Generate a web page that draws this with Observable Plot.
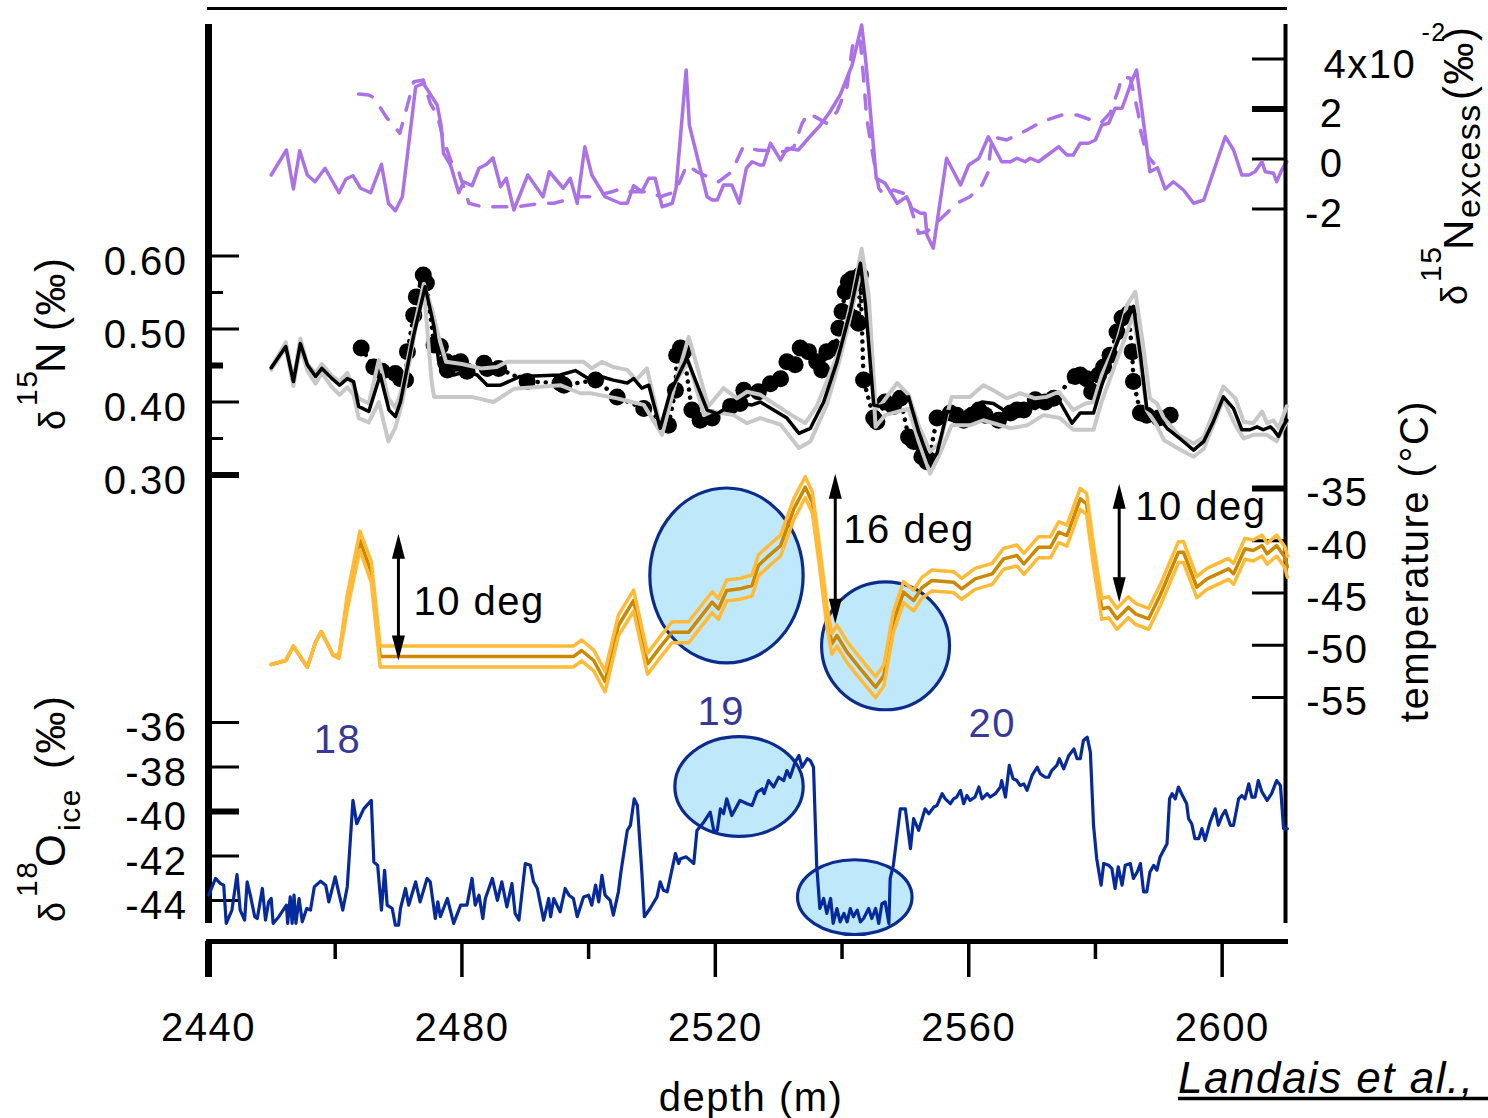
<!DOCTYPE html>
<html>
<head>
<meta charset="utf-8">
<script src="https://cdn.jsdelivr.net/npm/d3@7"></script>
<script src="https://cdn.jsdelivr.net/npm/@observablehq/plot@0.6"></script>
<style>
html,body{margin:0;padding:0;background:#fff;}
#chart{position:relative;width:1488px;height:1118px;overflow:hidden;background:#fff;}
#chart > svg{position:absolute;left:0;top:0;}
#chart text{font-family:"Liberation Sans",Arial,Helvetica,sans-serif;letter-spacing:1.5px;}
</style>
</head>
<body>
<div id="chart"></div>
<script>
// ---------------- DATA ----------------
// x axis ticks (depth, m)
const depthMajor = [2440, 2480, 2520, 2560, 2600];
const depthMinor = [2460, 2500, 2540, 2580];
// tick values
const excessTicks = [4, 2, 0, -2];
const d15NTicks = [0.30, 0.40, 0.50, 0.60];
const d15NMinor = [0.35, 0.45, 0.55];
const tempTicks = [-35, -40, -45, -50, -55];
const d18OTicks = [-36, -38, -40, -42, -44];

// δ15N excess (x10^-2 ‰), solid series [depth, value]
const excessSolid = [[2449.9,-0.64],[2452.3,0.36],[2453.4,-1.20],[2454.4,0.33],[2455.6,-0.64],[2456.8,-0.91],[2458.4,-0.37],[2460.6,-1.35],[2461.7,-0.80],[2462.8,-0.67],[2464.0,-1.17],[2465.6,-1.35],[2467.3,-0.21],[2468.4,-1.77],[2469.5,-2.07],[2470.6,-1.51],[2472.7,2.89],[2473.9,3.03],[2476.1,2.16],[2476.7,1.36],[2477.1,0.23],[2478.2,-0.24],[2479.5,-1.35],[2480.3,-0.91],[2481.6,-1.07],[2482.7,-0.37],[2483.9,-0.21],[2484.9,0.05],[2486.1,-1.11],[2487.0,-0.77],[2488.2,-2.04],[2490.4,-0.64],[2492.8,-1.51],[2493.8,-0.51],[2496.0,-1.17],[2497.1,-0.77],[2498.2,-1.77],[2499.4,0.49],[2500.5,-0.64],[2502.6,-1.51],[2505.0,-1.77],[2506.1,-1.77],[2507.1,-1.07],[2508.4,-1.31],[2509.5,-0.77],[2510.5,-0.77],[2511.6,-1.91],[2513.2,-1.77],[2513.8,-1.17],[2515.4,3.56],[2515.9,1.36],[2518.7,-1.51],[2519.5,-1.64],[2520.3,-1.64],[2521.3,-1.04],[2522.6,-1.04],[2523.8,-1.77],[2524.9,-0.37],[2525.8,-0.11],[2527.0,-0.24],[2527.6,-0.24],[2528.7,0.63],[2530.3,-0.04],[2531.3,0.43],[2533.1,0.36],[2534.7,0.83],[2536.6,1.36],[2538.1,1.89],[2539.7,2.56],[2541.6,3.76],[2543.1,5.36],[2543.7,4.03],[2544.2,2.69],[2545.4,-0.77],[2546.8,-0.97],[2548.7,-1.77],[2550.2,-1.51],[2551.0,-1.97],[2552.4,-2.17],[2553.1,-2.17],[2553.4,-3.04],[2554.4,-3.57],[2556.5,0.03],[2558.7,-1.04],[2560.0,-0.24],[2561.6,0.03],[2563.1,0.89],[2565.2,-0.11],[2566.6,-0.11],[2567.6,0.03],[2568.9,-0.11],[2569.7,0.03],[2571.0,-0.11],[2574.2,0.49],[2575.5,0.16],[2576.5,0.16],[2577.6,0.63],[2578.9,0.63],[2580.0,0.76],[2581.0,1.36],[2582.1,1.43],[2583.1,2.03],[2584.2,2.03],[2585.8,3.16],[2586.5,3.56],[2587.3,2.03],[2588.6,-0.51],[2589.8,-0.35],[2591.0,-1.20],[2592.3,-0.91],[2593.9,-1.24],[2595.5,-1.77],[2597.1,-1.64],[2600.5,0.89],[2601.8,0.36],[2603.1,-0.64],[2604.2,-0.64],[2605.2,-0.51],[2606.3,-0.11],[2606.8,-0.51],[2608.1,-0.57],[2608.6,-0.91],[2609.4,-0.44],[2610.2,-0.11]];

// δ15N excess, dashed series
const excessDashed = [[2463.7,2.60],[2465.3,2.56],[2466.1,2.45],[2468.2,1.63],[2470.2,1.03],[2472.4,3.09],[2473.9,3.16],[2475.0,2.23],[2476.1,1.76],[2477.1,0.76],[2478.5,-0.24],[2479.5,-0.51],[2481.1,-1.77],[2483.2,-1.91],[2486.6,-1.91],[2488.7,-1.91],[2492.7,-1.77],[2494.5,-1.77],[2498.4,-1.51],[2500.5,-1.51],[2503.7,-1.31],[2505.0,-1.20],[2506.1,-1.31],[2509.5,-1.31],[2511.3,-1.51],[2513.7,-1.31],[2515.5,-0.24],[2517.1,-0.51],[2520.5,-0.91],[2522.6,-0.51],[2524.4,0.49],[2526.6,0.36],[2531.0,0.29],[2532.4,0.49],[2533.7,1.43],[2534.7,1.83],[2537.6,1.43],[2539.2,1.89],[2540.8,2.89],[2541.6,4.43],[2542.1,4.89],[2542.9,4.69],[2543.4,3.23],[2543.9,1.63],[2544.5,0.69],[2545.8,-1.17],[2546.8,-1.51],[2548.1,-1.24],[2550.5,-1.44],[2550.8,-1.91],[2552.1,-2.97],[2553.4,-2.91],[2556.5,-2.17],[2558.1,-1.77],[2560.2,-1.51],[2562.1,-1.04],[2563.1,-0.51],[2563.3,0.09],[2563.7,0.89],[2566.0,0.76],[2569.2,1.16],[2571.5,1.49],[2574.7,1.76],[2577.1,1.76],[2580.8,1.43],[2582.3,1.83],[2583.6,2.76],[2584.2,3.29],[2585.5,3.23],[2586.0,2.69],[2586.8,1.76],[2587.1,1.16],[2588.1,0.16],[2589.2,-0.17]];

// δ15N (‰) model, black line
const d15NModel = [[2449.9,0.447],[2452.2,0.476],[2453.4,0.428],[2454.5,0.480],[2455.6,0.451],[2456.9,0.435],[2457.9,0.446],[2459.5,0.432],[2460.7,0.423],[2461.9,0.432],[2462.9,0.428],[2463.7,0.394],[2465.3,0.387],[2467.1,0.437],[2468.5,0.389],[2469.5,0.380],[2470.3,0.400],[2472.4,0.492],[2474.2,0.558],[2475.6,0.503],[2476.4,0.451],[2477.1,0.439],[2478.7,0.437],[2480.8,0.442],[2482.4,0.437],[2484.0,0.423],[2486.1,0.423],[2489.2,0.435],[2495.5,0.437],[2497.9,0.443],[2500.0,0.432],[2501.9,0.435],[2503.9,0.430],[2506.1,0.426],[2507.1,0.432],[2508.4,0.419],[2509.5,0.423],[2511.3,0.364],[2512.9,0.414],[2515.5,0.460],[2518.7,0.389],[2520.3,0.384],[2522.1,0.394],[2523.9,0.398],[2525.8,0.396],[2527.1,0.400],[2529.2,0.389],[2531.3,0.378],[2533.2,0.357],[2535.0,0.364],[2537.1,0.400],[2539.2,0.455],[2541.3,0.524],[2542.9,0.590],[2543.7,0.533],[2545.0,0.396],[2546.0,0.394],[2548.1,0.400],[2550.5,0.407],[2552.1,0.359],[2553.9,0.316],[2555.0,0.330],[2556.6,0.387],[2559.2,0.385],[2562.1,0.400],[2563.9,0.398],[2565.5,0.389],[2568.1,0.396],[2570.5,0.391],[2572.3,0.400],[2574.4,0.400],[2576.3,0.371],[2577.6,0.385],[2579.7,0.385],[2581.0,0.423],[2582.9,0.469],[2583.9,0.492],[2584.7,0.519],[2586.0,0.531],[2587.1,0.464],[2588.1,0.391],[2589.7,0.382],[2591.3,0.364],[2593.6,0.348],[2595.5,0.334],[2597.1,0.346],[2598.6,0.373],[2600.2,0.407],[2601.8,0.391],[2603.1,0.362],[2604.4,0.362],[2605.5,0.366],[2606.5,0.362],[2607.6,0.366],[2608.1,0.362],[2608.9,0.353],[2609.7,0.368],[2610.2,0.375]];

// δ15N model envelope, grey lines
const d15NHigh = [[2449.9,0.447],[2452.2,0.482],[2453.4,0.430],[2454.5,0.487],[2455.6,0.452],[2456.9,0.440],[2457.9,0.452],[2459.5,0.436],[2460.7,0.428],[2461.9,0.440],[2462.9,0.420],[2463.7,0.405],[2465.3,0.398],[2466.9,0.458],[2468.4,0.405],[2469.5,0.392],[2470.6,0.420],[2472.4,0.500],[2474.0,0.562],[2475.5,0.520],[2476.3,0.490],[2477.5,0.455],[2480.0,0.452],[2483.0,0.446],[2485.5,0.448],[2487.1,0.455],[2497.1,0.455],[2499.2,0.455],[2500.5,0.446],[2502.1,0.455],[2503.9,0.448],[2506.1,0.444],[2507.5,0.430],[2509.2,0.446],[2511.6,0.357],[2513.5,0.420],[2515.8,0.489],[2518.9,0.394],[2521.3,0.419],[2523.4,0.405],[2525.0,0.414],[2527.1,0.410],[2529.2,0.398],[2532.4,0.380],[2534.2,0.371],[2536.0,0.394],[2537.6,0.428],[2539.7,0.474],[2541.6,0.542],[2543.1,0.610],[2544.2,0.547],[2545.3,0.391],[2546.3,0.398],[2548.7,0.426],[2550.5,0.410],[2552.1,0.368],[2553.9,0.332],[2555.5,0.345],[2557.3,0.407],[2560.2,0.407],[2562.3,0.423],[2563.9,0.416],[2566.0,0.405],[2568.1,0.412],[2570.5,0.405],[2572.3,0.407],[2574.2,0.414],[2576.5,0.389],[2578.4,0.398],[2579.7,0.400],[2581.0,0.437],[2583.4,0.483],[2585.0,0.533],[2586.3,0.551],[2587.6,0.473],[2588.6,0.405],[2589.7,0.398],[2590.8,0.378],[2593.1,0.355],[2595.5,0.343],[2597.1,0.352],[2600.2,0.421],[2602.1,0.405],[2603.4,0.373],[2604.9,0.371],[2606.3,0.387],[2607.1,0.371],[2608.1,0.375],[2608.9,0.364],[2610.2,0.394]];
const d15NLow = [[2449.9,0.444],[2452.2,0.474],[2453.4,0.422],[2454.5,0.475],[2455.6,0.443],[2456.9,0.425],[2457.9,0.440],[2459.5,0.420],[2460.7,0.410],[2461.9,0.420],[2462.9,0.410],[2463.7,0.378],[2465.3,0.372],[2466.9,0.400],[2468.4,0.346],[2469.5,0.365],[2470.6,0.400],[2472.4,0.488],[2474.0,0.555],[2475.2,0.430],[2475.6,0.407],[2481.5,0.407],[2485.0,0.400],[2488.2,0.418],[2495.5,0.423],[2498.7,0.412],[2500.3,0.412],[2504.5,0.405],[2506.8,0.400],[2508.7,0.396],[2511.6,0.355],[2513.7,0.428],[2515.8,0.455],[2518.2,0.382],[2519.5,0.387],[2522.9,0.382],[2525.0,0.371],[2527.1,0.378],[2530.3,0.369],[2533.2,0.337],[2535.0,0.346],[2537.6,0.396],[2539.7,0.460],[2541.6,0.528],[2543.1,0.583],[2544.2,0.519],[2545.3,0.366],[2546.8,0.382],[2550.5,0.391],[2552.1,0.346],[2553.9,0.302],[2555.5,0.330],[2557.3,0.368],[2560.2,0.368],[2562.3,0.375],[2566.6,0.364],[2569.2,0.368],[2571.8,0.382],[2574.4,0.378],[2576.5,0.362],[2579.7,0.362],[2581.0,0.401],[2582.9,0.446],[2585.0,0.496],[2586.0,0.519],[2587.1,0.455],[2588.1,0.389],[2589.7,0.368],[2590.8,0.348],[2593.1,0.336],[2595.5,0.325],[2597.1,0.336],[2600.2,0.403],[2602.1,0.368],[2603.4,0.350],[2604.9,0.355],[2607.1,0.355],[2608.6,0.346],[2610.2,0.373]];

// δ15N measurements (dots)
const d15NData = [[2464.1,0.474],[2466.1,0.448],[2467.4,0.442],[2469.5,0.439],[2470.3,0.432],[2471.1,0.430],[2471.4,0.469],[2472.4,0.519],[2472.8,0.544],[2473.9,0.574],[2474.4,0.563],[2475.6,0.478],[2476.6,0.476],[2477.6,0.455],[2477.7,0.444],[2479.2,0.453],[2479.8,0.455],[2480.8,0.442],[2483.5,0.453],[2484.0,0.446],[2485.8,0.446],[2490.3,0.428],[2495.5,0.426],[2496.1,0.423],[2501.1,0.430],[2504.5,0.407],[2508.7,0.391],[2512.6,0.368],[2513.7,0.416],[2513.9,0.464],[2514.5,0.474],[2515.0,0.469],[2516.3,0.389],[2517.6,0.375],[2519.5,0.378],[2522.4,0.394],[2523.9,0.398],[2524.5,0.416],[2526.8,0.414],[2528.7,0.425],[2530.3,0.432],[2531.3,0.455],[2532.6,0.451],[2533.4,0.474],[2534.7,0.469],[2536.0,0.455],[2536.8,0.444],[2537.6,0.469],[2538.9,0.474],[2539.5,0.501],[2540.0,0.524],[2540.5,0.551],[2541.0,0.565],[2541.6,0.569],[2541.8,0.515],[2542.6,0.508],[2542.9,0.574],[2543.4,0.430],[2545.0,0.378],[2545.5,0.373],[2546.8,0.400],[2548.1,0.394],[2549.2,0.405],[2550.5,0.352],[2551.3,0.346],[2552.6,0.325],[2553.4,0.318],[2553.7,0.321],[2555.0,0.378],[2557.1,0.385],[2558.1,0.382],[2559.2,0.375],[2560.5,0.382],[2561.6,0.389],[2562.6,0.382],[2564.7,0.375],[2566.6,0.385],[2567.6,0.389],[2568.7,0.389],[2570.5,0.403],[2572.1,0.400],[2573.4,0.405],[2576.8,0.435],[2577.6,0.437],[2578.6,0.432],[2579.4,0.414],[2580.5,0.437],[2581.3,0.448],[2582.3,0.464],[2583.4,0.496],[2584.2,0.515],[2585.2,0.521],[2585.8,0.469],[2586.0,0.428],[2587.1,0.385],[2588.1,0.382],[2590.0,0.378],[2591.8,0.382]];

// temperature (°C): [depth, central value, half-width of the band]
const temperature = [[2449.9,-51.84,0],[2452.2,-51.46,0],[2453.4,-50.09,0],[2455.6,-52.10,0],[2456.9,-49.71,0],[2457.8,-48.69,0],[2459.7,-50.98,0],[2460.6,-51.05,0.2],[2461.9,-45.88,0.7],[2463.9,-39.98,0.9],[2465.7,-43.01,1],[2467.1,-51.08,1],[2497.6,-51.08,1],[2498.9,-50.50,1],[2500.8,-51.46,1],[2502.6,-53.47,1],[2504.7,-48.11,1],[2507.1,-45.72,1],[2509.3,-51.78,1],[2511.3,-50.18,1],[2513.2,-48.75,1],[2515.8,-48.75,1],[2519.5,-45.88,1],[2520.5,-46.52,1],[2521.8,-44.76,1],[2523.9,-44.60,1],[2525.8,-44.28,1],[2526.8,-42.37,1],[2528.2,-41.57,1],[2530.3,-40.46,1],[2532.4,-36.95,1],[2534.2,-34.87,1],[2535.3,-36.31,1],[2536.3,-40.77,1],[2537.6,-47.15,1],[2538.4,-49.87,1],[2539.2,-49.07,1],[2540.8,-50.66,1],[2542.9,-52.26,1],[2545.3,-54.01,1],[2546.6,-52.90,1],[2548.1,-47.79,1],[2549.7,-44.92,1],[2551.3,-45.72,1],[2552.6,-44.5,1],[2554.2,-43.80,1],[2557.6,-43.96,1],[2558.9,-44.60,1],[2561.0,-43.65,1],[2563.7,-43.17,1],[2565.5,-41.73,1],[2567.6,-41.41,1],[2568.7,-42.21,1],[2571.0,-40.62,1],[2572.9,-40.62,1],[2574.2,-39.18,1],[2575.5,-39.50,1],[2577.6,-35.99,1],[2578.6,-36.47,1],[2579.7,-41.41,1],[2581.0,-46.52,1],[2582.1,-46.36,1],[2583.4,-47.47,1],[2585.2,-46.36,1],[2586.3,-46.99,1],[2588.4,-47.47,1],[2590.2,-45.24,1],[2593.1,-41.09,1],[2593.9,-41.09,1],[2596.0,-44.44,1],[2597.6,-43.65,1],[2601.0,-42.69,1],[2601.8,-43.17,1],[2603.6,-40.77,1],[2604.9,-40.93,1],[2606.3,-40.46,1],[2607.1,-41.25,1],[2608.6,-40.46,1],[2609.9,-41.57,1],[2610.3,-42.5,1]];

// δ18O ice (‰)
const d18O = [[2440.05,-43.76],[2441.1,-43.01],[2441.9,-43.24],[2442.4,-43.31],[2442.8,-45.03],[2443.7,-44.43],[2444.5,-42.84],[2445.0,-44.43],[2445.7,-44.88],[2446.1,-43.16],[2446.6,-43.76],[2447.3,-44.73],[2447.7,-44.81],[2448.5,-43.46],[2449.0,-44.88],[2449.5,-44.06],[2449.9,-43.91],[2450.2,-45.03],[2451.1,-44.73],[2452.3,-44.21],[2452.5,-45.03],[2452.9,-43.84],[2453.2,-45.03],[2453.5,-43.76],[2453.8,-45.03],[2454.3,-43.91],[2454.8,-44.96],[2455.5,-44.36],[2456.1,-44.43],[2456.7,-43.39],[2457.7,-43.13],[2458.5,-43.31],[2459.0,-44.06],[2460.0,-42.94],[2460.6,-43.69],[2461.2,-44.43],[2461.9,-43.39],[2462.8,-39.50],[2463.4,-40.55],[2464.5,-39.88],[2465.7,-39.50],[2466.1,-42.27],[2466.7,-42.42],[2467.3,-44.43],[2467.8,-42.64],[2468.2,-44.21],[2469.0,-44.36],[2469.5,-45.11],[2470.0,-45.11],[2470.3,-44.36],[2471.1,-43.46],[2471.6,-44.21],[2472.7,-43.16],[2473.4,-44.06],[2474.5,-43.01],[2475.0,-43.16],[2475.8,-44.81],[2476.2,-44.06],[2476.6,-44.73],[2477.7,-43.91],[2478.7,-45.03],[2479.8,-44.21],[2480.8,-44.21],[2481.6,-43.01],[2482.1,-44.21],[2482.7,-43.76],[2483.3,-44.81],[2483.7,-43.91],[2484.8,-43.01],[2485.6,-43.99],[2486.3,-43.16],[2487.1,-44.29],[2487.9,-43.24],[2488.4,-44.58],[2489.0,-44.88],[2490.0,-42.34],[2490.8,-42.42],[2491.3,-43.16],[2491.9,-43.46],[2492.9,-44.88],[2493.7,-43.91],[2494.0,-44.73],[2494.5,-43.91],[2495.5,-44.51],[2496.3,-43.46],[2496.9,-43.76],[2497.6,-43.91],[2498.2,-44.73],[2499.2,-43.84],[2500.0,-43.76],[2500.5,-44.21],[2501.1,-43.31],[2501.6,-44.06],[2502.1,-42.87],[2502.6,-43.76],[2503.4,-43.99],[2503.9,-44.66],[2504.7,-43.61],[2505.1,-42.72],[2506.1,-40.85],[2506.6,-40.62],[2507.2,-39.43],[2507.7,-39.73],[2508.4,-42.72],[2508.8,-44.73],[2509.7,-44.36],[2510.8,-43.84],[2511.3,-43.16],[2511.8,-43.54],[2512.4,-43.61],[2513.7,-41.89],[2514.2,-42.34],[2514.5,-42.12],[2515.4,-42.04],[2516.6,-42.34],[2517.1,-40.85],[2518.2,-40.47],[2519.2,-40.03],[2519.8,-40.92],[2520.3,-40.85],[2520.8,-39.88],[2521.3,-40.10],[2521.8,-39.43],[2522.6,-40.18],[2523.9,-39.50],[2525.0,-39.65],[2525.8,-39.73],[2526.6,-39.13],[2527.4,-38.98],[2527.7,-39.20],[2528.4,-38.61],[2529.2,-38.90],[2530.0,-38.46],[2530.8,-38.61],[2531.3,-38.16],[2531.8,-38.46],[2532.6,-37.78],[2533.2,-37.48],[2533.7,-38.01],[2534.5,-37.63],[2535.0,-37.71],[2535.5,-38.01],[2536.0,-42.42],[2536.5,-44.36],[2537.1,-43.91],[2537.6,-44.58],[2538.2,-43.91],[2538.6,-45.03],[2539.2,-44.36],[2539.7,-44.96],[2540.3,-44.58],[2540.8,-44.96],[2541.3,-44.36],[2541.8,-44.73],[2542.4,-44.43],[2542.9,-44.96],[2543.4,-44.81],[2544.2,-44.36],[2544.7,-44.81],[2545.3,-44.36],[2545.8,-45.03],[2546.3,-44.14],[2546.8,-44.06],[2547.4,-45.03],[2547.6,-43.01],[2548.1,-42.42],[2549.2,-39.88],[2550.0,-39.88],[2550.8,-41.67],[2551.3,-40.32],[2552.1,-40.85],[2553.1,-39.88],[2553.7,-40.10],[2554.5,-39.80],[2555.0,-39.73],[2555.8,-39.20],[2556.3,-39.43],[2557.1,-39.65],[2557.6,-39.43],[2558.1,-39.35],[2558.7,-39.05],[2559.2,-39.65],[2559.7,-39.28],[2560.2,-39.50],[2561.0,-39.35],[2561.6,-38.90],[2562.1,-39.43],[2562.9,-39.20],[2563.4,-39.35],[2564.2,-39.20],[2565.0,-38.90],[2565.2,-38.61],[2565.8,-39.35],[2566.4,-37.93],[2567.0,-38.53],[2567.6,-38.61],[2568.1,-38.83],[2568.7,-38.76],[2569.2,-39.05],[2570.0,-38.38],[2570.8,-38.01],[2571.3,-38.31],[2572.1,-38.46],[2572.6,-38.46],[2573.1,-38.16],[2573.9,-37.93],[2574.3,-37.63],[2575.0,-38.08],[2575.8,-37.48],[2576.6,-37.19],[2577.1,-37.63],[2577.6,-37.63],[2578.1,-36.81],[2578.7,-36.66],[2579.2,-37.33],[2579.7,-40.62],[2580.2,-42.12],[2580.9,-43.31],[2581.3,-42.34],[2582.1,-42.42],[2582.6,-42.57],[2583.1,-43.46],[2583.6,-42.49],[2584.2,-43.31],[2584.7,-42.42],[2585.5,-42.34],[2586.0,-43.01],[2586.6,-42.72],[2587.1,-42.34],[2587.6,-43.61],[2588.1,-43.61],[2588.6,-42.72],[2589.2,-42.42],[2589.7,-42.64],[2590.2,-42.04],[2591.3,-41.45],[2591.7,-39.43],[2592.1,-39.20],[2592.6,-39.43],[2593.1,-38.90],[2593.6,-39.20],[2594.4,-39.65],[2594.7,-40.32],[2595.2,-40.55],[2595.7,-41.22],[2596.3,-41.22],[2596.8,-40.77],[2597.3,-41.30],[2598.1,-40.47],[2598.9,-39.88],[2599.4,-40.62],[2600.0,-40.18],[2600.5,-39.95],[2601.3,-40.62],[2601.8,-40.62],[2602.6,-39.43],[2603.1,-39.28],[2603.6,-39.43],[2604.2,-38.76],[2604.7,-39.35],[2605.2,-39.35],[2605.7,-38.61],[2606.3,-39.13],[2607.1,-39.50],[2607.8,-39.20],[2608.6,-38.61],[2609.2,-38.83],[2609.7,-40.77],[2610.3,-40.77]];

// annotations
const tempArrows = [[2469.98,-39.34,-51.46],[2538.93,-33.59,-47.95],[2583.75,-34.55,-45.88]]; // depth, top, bottom
const tempNotes = [[2472.35,-47.15,"10 deg"],[2540.2,-40.26,"16 deg"],[2586.27,-38.06,"10 deg"]];
const cycleNotes = [[2460.35,-37.39,"18"],[2520.95,-36.13,"19"],[2563.7,-36.67,"20"]];
const tempEllipses = [[2521.84,-43.37,12.1,8.37],[2546.95,-50.10,10.1,6.12]]; // depth, T, half-width (m), half-height (°C)
const isoEllipses = [[2523.82,-38.90,10.13,2.24],[2542.09,-43.87,9.04,1.68]];

// ---------------- DRAWING ----------------
const FONT = '"Liberation Sans", Arial, Helvetica, sans-serif';
const PURPLE = "#ab72e8", GRAY = "#c8c8c8", TMID = "#cc8800", TLIGHT = "#ffbb38",
      BLUE = "#06299c", EFILL = "#bfe8fb", ESTROKE = "#0b2c8e", NUMC = "#383896";
const W = 1488, H = 1118, XL = 208, XR = 1285, FW = XR - XL;
const xDom = [2440, 2610];
const fx = d => d[0], fy = d => d[1];
const chart = document.getElementById("chart");

function layer(opts) {
  const svg = Plot.plot(Object.assign({
    width: W, height: H,
    marginLeft: XL, marginRight: W - XR, marginTop: 24, marginBottom: 195,
    x: {domain: xDom, range: [XL, XR], axis: null},
    style: {background: "transparent", fontFamily: FONT, overflow: "visible"}
  }, opts));
  chart.appendChild(svg);
  return svg;
}

function addEllipses(svg, list) {
  const xs = svg.scale("x"), ys = svg.scale("y");
  const sx = d3.scaleLinear(xs.domain, xs.range), sy = d3.scaleLinear(ys.domain, ys.range);
  const g = d3.create("svg:g");
  for (const [d, v, rd, rv] of list) {
    g.append("ellipse")
      .attr("cx", sx(d)).attr("cy", sy(v))
      .attr("rx", Math.abs(sx(d + rd) - sx(d))).attr("ry", Math.abs(sy(v + rv) - sy(v)))
      .attr("fill", EFILL).attr("stroke", ESTROKE).attr("stroke-width", 3.2);
  }
  const first = svg.querySelector(":scope > g");
  svg.insertBefore(g.node(), first);
}

// frame + depth axis
layer({
  marginTop: 8, marginBottom: 177,
  x: {domain: xDom, range: [XL, XR]},
  marks: [
    Plot.frame({anchor: "top", strokeWidth: 3}),
    Plot.frame({anchor: "bottom", strokeWidth: 5}),
    Plot.axisX({ticks: depthMajor, tickSize: 36, tickPadding: 35, strokeWidth: 3.5, fontSize: 40, tickFormat: d => String(d), label: null}),
    Plot.axisX({ticks: depthMinor, tickSize: 18, strokeWidth: 3.5, tickFormat: () => "", label: null}),
    Plot.axisX({ticks: [2440], tickSize: 36, strokeWidth: 7, tickFormat: () => "", label: null}),
    Plot.text(["depth (m)"], {text: d => d, frameAnchor: "bottom", dx: 4, dy: 169, lineAnchor: "bottom", fontSize: 40})
  ]
});

// δ15N excess panel
layer({
  y: {domain: [-2, 4], range: [208.5, 58.5]},
  marks: [
    Plot.ruleY([4, 0, -2], {y: d => d, insetLeft: FW - 33, strokeWidth: 3}),
    Plot.ruleY([2], {y: d => d, insetLeft: FW - 33, strokeWidth: 6}),
    Plot.axisY({anchor: "right", ticks: excessTicks.filter(t => t !== 4), tickSize: 0, tickPadding: 58, textAnchor: "end", tickFormat: d => String(d), fontSize: 40, dy: 5, label: null}),
    Plot.text([4], {y: d => d, text: () => "4x10", frameAnchor: "right", textAnchor: "start", lineAnchor: "bottom", dx: 38, dy: 18.5, fontSize: 40}),
    Plot.text([4], {y: d => d, text: () => "-2", frameAnchor: "right", textAnchor: "start", lineAnchor: "bottom", dx: 136, dy: -18, fontSize: 25}),
    Plot.line(excessDashed, {x: fx, y: fy, stroke: PURPLE, strokeWidth: 3.5, strokeDasharray: "14,14"}),
    Plot.line(excessSolid, {x: fx, y: fy, stroke: PURPLE, strokeWidth: 3.5})
  ]
});

// δ15N panel (+ vertical axis lines)
layer({
  y: {domain: [0.30, 0.60], range: [474.5, 255.5]},
  marks: [
    Plot.ruleX([2440], {strokeWidth: 7}),
    Plot.ruleX([2610], {strokeWidth: 4}),
    Plot.ruleY([0.40, 0.50, 0.60], {y: d => d, insetRight: FW - 31, strokeWidth: 3}),
    Plot.ruleY([0.30], {y: d => d, insetRight: FW - 31, strokeWidth: 6}),
    Plot.ruleY([0.35, 0.55], {y: d => d, insetRight: FW - 15, strokeWidth: 3}),
    Plot.ruleY([0.45], {y: d => d, insetRight: FW - 15, strokeWidth: 6}),
    Plot.axisY({anchor: "left", ticks: d15NTicks, tickSize: 0, tickPadding: 21, tickFormat: d => d.toFixed(2), fontSize: 40, dy: 6, label: null}),
    Plot.dot(d15NData, {x: fx, y: fy, r: 8.5, fill: "black", stroke: "none"}),
    Plot.line(d15NData, {x: fx, y: fy, stroke: "black", strokeWidth: 4.5, strokeDasharray: "0.1,8", strokeLinecap: "round"}),
    Plot.line(d15NHigh, {x: fx, y: fy, stroke: GRAY, strokeWidth: 4}),
    Plot.line(d15NLow, {x: fx, y: fy, stroke: GRAY, strokeWidth: 4}),
    Plot.line(d15NModel, {x: fx, y: fy, stroke: "black", strokeWidth: 3.5})
  ]
});

// temperature panel
const headUp = {draw(ctx) { ctx.moveTo(0, 0); ctx.lineTo(6.5, 25); ctx.lineTo(-6.5, 25); ctx.closePath(); }};
const tUp = temperature.map(d => [d[0], d[1] + d[2]]);
const tLo = temperature.map(d => [d[0], d[1] - d[2]]);
const svgT = layer({
  y: {domain: [-55, -35], range: [697, 488]},
  marks: [
    Plot.ruleY([-40, -45, -50, -55], {y: d => d, insetLeft: FW - 33, strokeWidth: 3}),
    Plot.ruleY([-35], {y: d => d, insetLeft: FW - 33, strokeWidth: 6}),
    Plot.axisY({anchor: "right", ticks: tempTicks, tickSize: 0, tickPadding: 83, textAnchor: "end", tickFormat: d => String(d), fontSize: 40, dy: 5, label: null}),
    Plot.line(temperature, {x: fx, y: fy, stroke: TMID, strokeWidth: 3.5}),
    Plot.line(tUp, {x: fx, y: fy, stroke: TLIGHT, strokeWidth: 3.5}),
    Plot.line(tLo, {x: fx, y: fy, stroke: TLIGHT, strokeWidth: 3.5}),
    Plot.ruleX(tempArrows, {x: d => d[0], y1: d => d[1], y2: d => d[2], strokeWidth: 3, insetTop: 10, insetBottom: 10}),
    Plot.dot(tempArrows, {x: d => d[0], y: d => d[1], symbol: headUp, fill: "black", stroke: "none"}),
    Plot.dot(tempArrows, {x: d => d[0], y: d => d[2], symbol: headUp, rotate: 180, fill: "black", stroke: "none"}),
    Plot.text(tempNotes, {x: d => d[0], y: d => d[1], text: d => d[2], textAnchor: "start", lineAnchor: "bottom", fontSize: 40, fill: "black"})
  ]
});
addEllipses(svgT, tempEllipses);

// δ18O panel
const svgO = layer({
  y: {domain: [-44, -36], range: [900, 722]},
  marks: [
    Plot.ruleY([-36, -38, -42, -44], {y: d => d, insetRight: FW - 31, strokeWidth: 3}),
    Plot.ruleY([-40], {y: d => d, insetRight: FW - 31, strokeWidth: 6}),
    Plot.axisY({anchor: "left", ticks: d18OTicks, tickSize: 0, tickPadding: 21, tickFormat: d => String(d), fontSize: 40, dy: 6, label: null}),
    Plot.line(d18O, {x: fx, y: fy, stroke: BLUE, strokeWidth: 3.2}),
    Plot.text(cycleNotes, {x: d => d[0], y: d => d[1], text: d => d[2], textAnchor: "middle", lineAnchor: "bottom", fontSize: 40, fill: NUMC})
  ]
});
addEllipses(svgO, isoEllipses);

// axis titles (rich text)
const ov = d3.create("svg").attr("width", W).attr("height", H).attr("font-family", FONT);
function rlabel(x, y, parts) {
  const t = ov.append("text").attr("transform", `translate(${x},${y}) rotate(-90)`).attr("fill", "black");
  for (const p of parts) t.append("tspan").attr("x", p[1]).attr("y", p[2]).attr("font-size", p[3]).text(p[0]);
}
rlabel(65, 430, [["δ", 0, 0, 36], ["15", 24, -28, 30], ["N", 57, 0, 42], ["(‰)", 99, 0, 42]]);
rlabel(65, 922, [["δ", 0, 0, 36], ["18", 25, -28, 30], ["O", 55, 0, 42], ["ice", 91, 15, 30], ["(‰)", 153, 0, 42]]);
rlabel(1473, 305, [["δ", 0, -6, 36], ["15", 23, -32, 30], ["N", 55, 0, 42], ["excess", 87, 7, 34], ["(‰)", 205, 0, 42]]);
ov.append("text").attr("transform", "translate(1428,561) rotate(-90)").attr("text-anchor", "middle").attr("font-size", 40).text("temperature (°C)");
ov.append("text").attr("x", 1178).attr("y", 1093).attr("font-size", 44).attr("font-style", "italic").text("Landais et al.,");
ov.append("line").attr("x1", 1178).attr("x2", 1488).attr("y1", 1098.5).attr("y2", 1098.5).attr("stroke", "black").attr("stroke-width", 3.5);
chart.appendChild(ov.node());
</script>
</body>
</html>
